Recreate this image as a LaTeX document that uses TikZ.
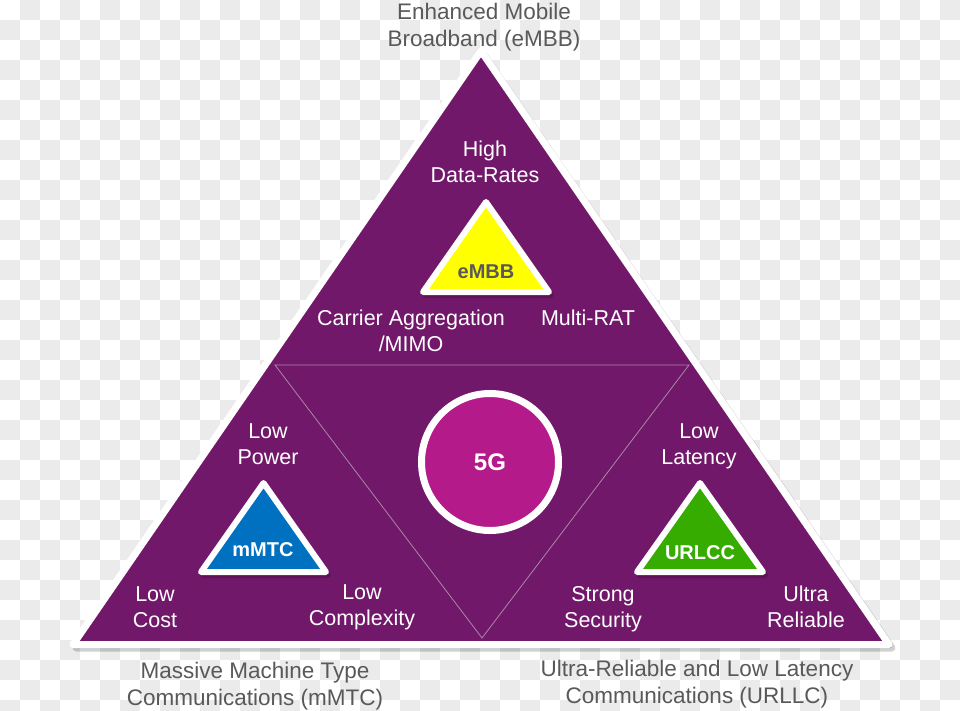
\documentclass[tikz,border=0pt]{standalone}
\usepackage{fontspec}
\setmainfont{Liberation Sans}
\usetikzlibrary{positioning}
\definecolor{plum}{HTML}{72186A}
\definecolor{magn}{HTML}{B51A8A}
\definecolor{chk}{HTML}{EBEBEB}
\definecolor{capg}{HTML}{595959}
\definecolor{sun}{HTML}{FFFF00}
\definecolor{sea}{HTML}{0070C0}
\definecolor{leaf}{HTML}{36AC00}
\definecolor{seam}{HTML}{A889A6}

\begin{document}
\begin{tikzpicture}[x=1pt,y=-1pt,
  wt/.style={text=white,align=center,inner sep=0pt,font=\fontsize{21.5}{26}\selectfont},
  captxt/.style={text=capg,align=center,inner sep=0pt,font=\fontsize{22.5}{27.5}\selectfont},
  tag/.style={inner sep=0pt,font=\bfseries\fontsize{20}{24}\selectfont},
  tri/.style={draw=white,line join=round},
  shd/.style={fill=black,opacity=0.18,line join=round}]
\useasboundingbox (0,0) rectangle (960,710);
\fill[white] (0,0) rectangle (960,710);
\foreach \j in {0,...,35}
  \foreach \i in {0,2,...,46}{
    \pgfmathtruncatemacro\k{\i+mod(\j+1,2)}
    \fill[chk] (\k*20,\j*20) rectangle ++(20,20);
  }
\filldraw[shd,draw=black,line width=7pt] (484,55) -- (76,648) -- (892,648) -- cycle;
\filldraw[tri,fill=plum,line width=7pt] (481,51) -- (73,644.5) -- (889,644.5) -- cycle;
\draw[seam,line width=0.8pt] (275,365) -- (689,365) -- (482,638) -- cycle;
\filldraw[shd,draw=black,line width=6pt] (488,205) -- (425,295) -- (551,295) -- cycle;
\filldraw[tri,fill=sun,line width=6pt] (486,202) -- (423,292) -- (549,292) -- cycle;
\filldraw[shd,draw=black,line width=6pt] (265.5,486) -- (203,575) -- (328,575) -- cycle;
\filldraw[tri,fill=sea,line width=6pt] (263.5,483) -- (201,572) -- (326,572) -- cycle;
\filldraw[shd,draw=black,line width=6pt] (702,486) -- (639,575) -- (765,575) -- cycle;
\filldraw[tri,fill=leaf,line width=6pt] (700,483) -- (637,572) -- (763,572) -- cycle;
\node[circle,fill=magn,draw=white,line width=7pt,minimum size=137pt,text=white,
  font=\bfseries\fontsize{24}{28}\selectfont] (core) at (490,462) {5G};
\node[tag,text=capg] (tE) at (486,272) {eMBB};
\node[tag,text=white] (tM) at (263,550) {mMTC};
\node[tag,text=white] (tU) at (700,553) {URLCC};
\node[wt] (rate) at (485,162) {High\\Data-Rates};
\node[wt] (carr) at (411,331) {Carrier Aggregation\\/MIMO};
\node[wt] (mrat) at (588,318) {Multi-RAT};
\node[wt] (lpow) at (268,444) {Low\\Power};
\node[wt] (lcst) at (155,607) {Low\\Cost};
\node[wt] (lcpx) at (362,607) {Low\\Complexity};
\node[wt] (llat) at (699,446) {Low\\Latency};
\node[wt] (ssec) at (603,609) {Strong\\Security};
\node[wt] (urel) at (806,607) {Ultra\\Reliable};
\node[captxt] (ebb) at (484,27) {Enhanced Mobile\\Broadband (eMBB)};
\node[captxt] (mtc) at (255,686) {Massive Machine Type\\Communications (mMTC)};
\node[captxt] (llc) at (697,684) {Ultra-Reliable and Low Latency\\Communications (URLLC)};
\end{tikzpicture}
\end{document}
